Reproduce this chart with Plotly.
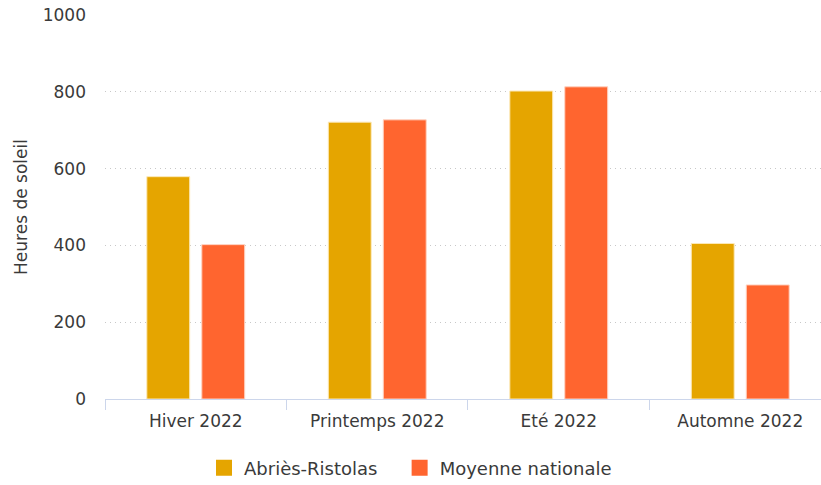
import plotly.graph_objects as go

# Seasonal sunshine hours, 2022
seasons = ["Hiver 2022", "Printemps 2022", "Eté 2022", "Automne 2022"]
abries_ristolas = [579, 721, 802, 405]
moyenne_nationale = [402, 727, 813, 297]

y_ticks = [0, 200, 400, 600, 800, 1000]

series_names = ["Abriès-Ristolas", "Moyenne nationale"]
series_colors = ["#E5A500", "#FF652F"]
series_edges = ["#FCE9B8", "#FFD2C0"]

font_family = "DejaVu Sans, Verdana, sans-serif"
text_color = "#3A3A3A"

fig = go.Figure()
for name, values, color, edge in zip(series_names, [abries_ristolas, moyenne_nationale],
                                     series_colors, series_edges):
    fig.add_trace(go.Bar(
        x=seasons, y=values, name=name, legendgroup=name, showlegend=False,
        marker=dict(color=color, line=dict(color=edge, width=1)),
    ))

# Larger square swatches for the legend; non-breaking spaces widen the gap
# between the two entries
legend_pad = ["\u00a0\u00a0\u00a0", ""]
for name, color, pad in zip(series_names, series_colors, legend_pad):
    fig.add_trace(go.Scatter(
        x=[None], y=[None], mode="markers", name=name + pad, legendgroup=name,
        marker=dict(symbol="square", size=18, color=color),
        hoverinfo="skip",
    ))

fig.update_layout(
    width=821, height=485,
    margin=dict(l=105, r=0, t=15, b=86),
    paper_bgcolor="white", plot_bgcolor="white",
    barmode="group", bargap=0.394, bargroupgap=0.22,
    font=dict(family=font_family, size=17, color=text_color),
    showlegend=True,
    legend=dict(
        orientation="h", xref="container", x=0.5, xanchor="center",
        yref="container", y=0.035, yanchor="middle",
        font=dict(size=18, color=text_color), itemwidth=30,
        traceorder="normal",
    ),
    xaxis=dict(
        type="category", range=[-0.5, 3.445],
        showline=True, linecolor="#CCD6EB", linewidth=1,
        ticks="outside", tickson="boundaries", ticklen=10,
        tickcolor="#CCD6EB", tickfont=dict(size=17, color=text_color),
        ticklabelstandoff=7,
        showgrid=False, zeroline=False,
    ),
    yaxis=dict(
        range=[0, 1000], tickvals=y_ticks,
        showgrid=True, gridcolor="#C8C8C8", griddash="1px,4px", gridwidth=1.2,
        zeroline=False, showline=False, ticks="",
        ticklabelstandoff=18,
        tickfont=dict(size=17, color=text_color),
        title=dict(text="Heures de soleil", font=dict(size=17, color=text_color),
                   standoff=10),
    ),
)

fig.write_html("out.html")
